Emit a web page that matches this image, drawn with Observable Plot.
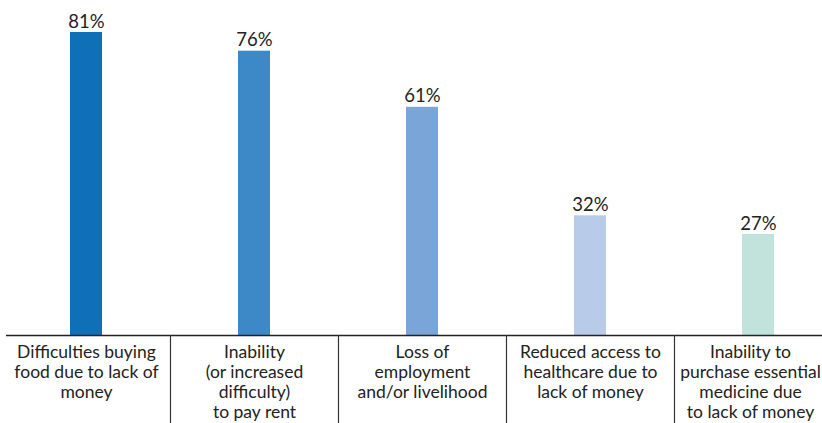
<!DOCTYPE html>
<html>
<head>
<meta charset="utf-8">
<script src="https://cdn.jsdelivr.net/npm/d3@7"></script>
<script src="https://cdn.jsdelivr.net/npm/@observablehq/plot@0.6"></script>
<style>
  html, body { margin: 0; padding: 0; background: #fff; }
  svg { overflow: visible; }
</style>
</head>
<body>
<div id="chart"></div>
<script>
const categories = [
  "Difficulties buying\nfood due to lack of\nmoney",
  "Inability\n(or increased\ndifficulty)\nto pay rent",
  "Loss of\nemployment\nand/or livelihood",
  "Reduced access to\nhealthcare due to\nlack of money",
  "Inability to\npurchase essential\nmedicine due\nto lack of money"
];
const values = [81, 76, 61, 32, 27];
const colors = ["#0f70b7", "#3d88c6", "#7aa5d8", "#b8ccea", "#c2e3dc"];

const data = categories.map((c, i) => ({category: c, value: values[i], color: colors[i]}));
const lastCat = categories[categories.length - 1];

const labelOpts = {x: "category", y: 0, text: "category", lineAnchor: "top", dy: 8, lineHeight: 1.15, fontSize: 17.5, fill: "#222"};

const chart = Plot.plot({
  width: 822,
  height: 423,
  marginTop: 32,
  marginBottom: 88,
  marginLeft: 6,
  marginRight: 0,
  style: {fontFamily: "Lato, 'Open Sans', sans-serif", fontSize: "17px", color: "#222", background: "#fff"},
  x: {domain: categories, range: [2, 842], paddingInner: 0.81, paddingOuter: 0.405, axis: null},
  y: {domain: [0, 81], axis: null},
  marks: [
    Plot.barY(data, {x: "category", y: "value", fill: "color"}),
    Plot.text(data, {x: "category", y: "value", text: d => d.value + "%", dy: -5, lineAnchor: "bottom", fontSize: 18.5, fill: "#222"}),
    Plot.ruleY([0], {stroke: "#222", strokeWidth: 1.5}),
    Plot.ruleX(categories.slice(1), {x: d => d, dx: -84, y1: 0, y2: -24, stroke: "#333", strokeWidth: 1.2}),
    Plot.text(data.filter(d => d.category !== lastCat), labelOpts),
    Plot.text(data.filter(d => d.category === lastCat), {...labelOpts, dx: -8})
  ]
});
document.getElementById("chart").appendChild(chart);
</script>
</body>
</html>
